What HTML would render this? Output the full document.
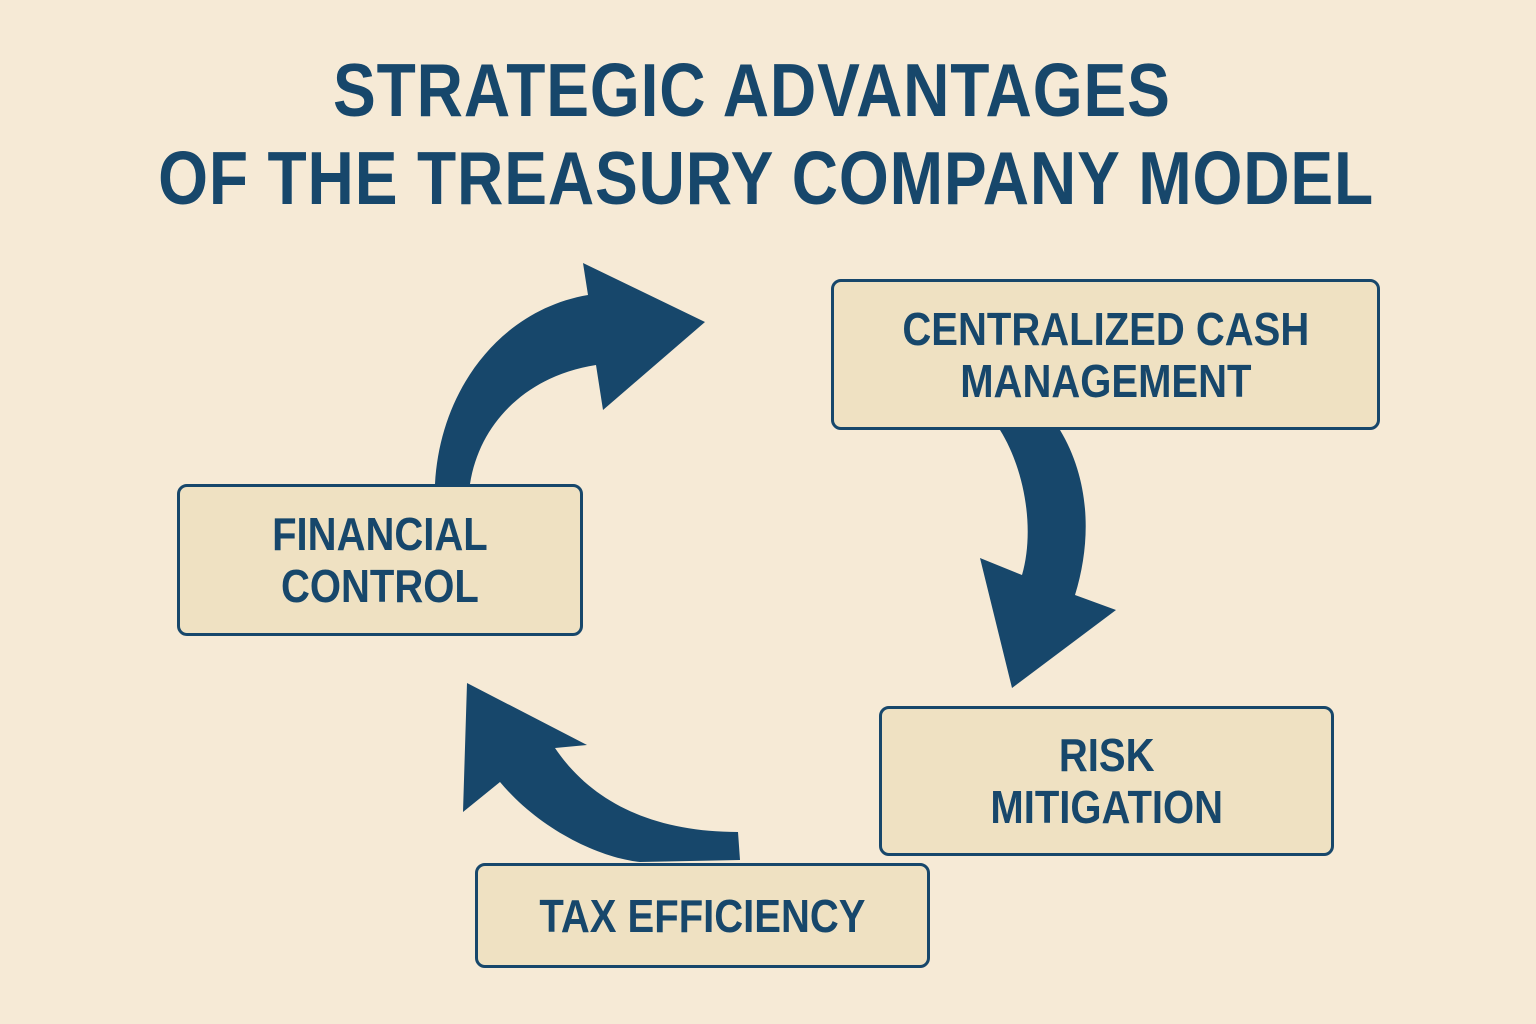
<!DOCTYPE html>
<html><head><meta charset="utf-8"><style>
html,body{margin:0;padding:0}
body{width:1536px;height:1024px;background:#f6ead6;position:relative;overflow:hidden;font-family:"Liberation Sans Narrow","Liberation Sans",sans-serif;color:#17476b}
.t{position:absolute;left:0;width:1536px;text-align:center;font-weight:bold;font-size:75px;line-height:1;letter-spacing:1px}
.t span{display:inline-block;transform:scaleX(0.855)}
.b{position:absolute;box-sizing:border-box;border:3px solid #17476b;border-radius:10px;background:#efe1c2;display:flex;align-items:center;justify-content:center;text-align:center;font-weight:bold;font-size:46px;line-height:52px}
.b span{display:inline-block;transform:scaleX(0.87);white-space:nowrap}
svg{position:absolute;left:0;top:0}
</style></head><body>
<div class="t" style="top:53px;left:-16px"><span>STRATEGIC ADVANTAGES</span></div>
<div class="t" style="top:141px;left:-2px"><span>OF THE TREASURY COMPANY MODEL</span></div>
<svg width="1536" height="1024">
<g fill="#17476b">
<path d="M435,484 C440,390 500,310 588,295 L583,263 L705,322 L603,410 L596,365 C530,375 480,420 470,484 Z"/>
<path d="M1060,430 C1090,480 1092,540 1075,595 L1116,610 L1012,688 L980,558 L1022,575 C1035,530 1025,470 1000,430 Z"/>
<path d="M740,860 L738,832 C650,832 590,800 555,748 L587,745 L467,683 L463,812 L500,782 C540,830 600,858 640,862 Z"/>
</g>
</svg>
<div class="b" style="left:831px;top:279px;width:549px;height:151px"><span>CENTRALIZED CASH<br>MANAGEMENT</span></div>
<div class="b" style="left:177px;top:484px;width:406px;height:152px"><span>FINANCIAL<br>CONTROL</span></div>
<div class="b" style="left:879px;top:706px;width:455px;height:150px"><span>RISK<br>MITIGATION</span></div>
<div class="b" style="left:475px;top:863px;width:455px;height:105px"><span>TAX EFFICIENCY</span></div>
</body></html>
